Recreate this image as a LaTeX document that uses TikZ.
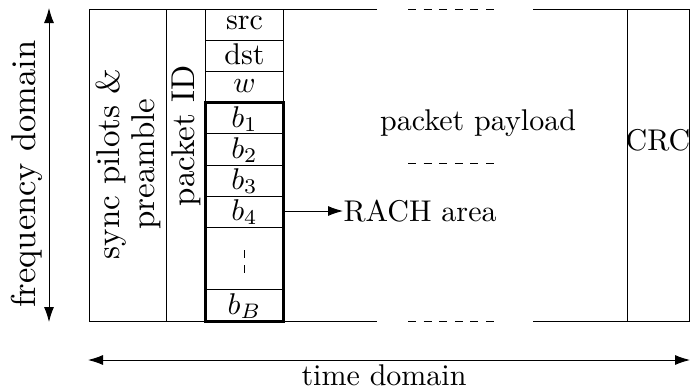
\documentclass[tikz,border=0pt]{standalone}
\usetikzlibrary{arrows.meta}
\begin{document}
\begin{tikzpicture}[x=1pt,y=-1pt,
  font=\fontsize{10}{12}\selectfont,
  frame/.style={line width=0.9pt},
  dashline/.style={line width=0.9pt, dash pattern=on 8pt off 7.6pt},
  thickbox/.style={line width=3pt},
  lbl/.style={inner sep=0pt, anchor=center, scale=3, transform shape},
  biglbl/.style={inner sep=0pt, anchor=center, scale=3.3, transform shape},
  tip/.style={-{Latex[length=15pt,width=10pt]}},
  twotip/.style={{Latex[length=15pt,width=10pt]}-{Latex[length=15pt,width=10pt]}}]
\useasboundingbox (0,0) rectangle (691,389);
% frame
\draw[frame] (377,9) -- (89,9) -- (89,321) -- (377,321);
\draw[frame] (533,9) -- (689,9) -- (689,321) -- (533,321);
\draw[dashline] (408,9) -- (496,9);
\draw[dashline] (408,321) -- (496,321);
\draw[dashline] (408,163) -- (496,163);
\draw[frame] (128,9) -- (166,9);
\draw[frame] (128,321) -- (166,321);
% separators
\draw[frame] (166,9) -- (166,321);
\draw[frame] (205,9) -- (205,102.6);
\draw[frame] (283.5,9) -- (283.5,102.6);
\foreach \yy in {40.2,71.4,133.8,165,196.2,227.4,289.8}
  \draw[frame] (205,\yy) -- (283.5,\yy);
\draw[thickbox] (205,102.6) rectangle (283.5,321);
% CRC
\draw[frame] (627,9) rectangle (689,321);
\node[lbl] (crc) at (658,140) {CRC};
% column labels
\node[lbl] (src) at (244.5,23) {src};
\node[lbl] (dst) at (244.5,54) {dst};
\node[lbl] (w) at (244.5,86) {$w$};
\node[lbl] (b1) at (244.5,119) {$b_1$};
\node[lbl] (b2) at (244.5,150) {$b_2$};
\node[lbl] (b3) at (244.5,181) {$b_3$};
\node[lbl] (b4) at (244.5,212) {$b_4$};
\node[lbl] (bB) at (244.5,306) {$b_B$};
\coordinate (dtop) at (244.5,250);
\coordinate (dbot) at (244.5,274);
\draw[frame, dash pattern=on 8pt off 7pt] (dtop) -- (dbot);
% rotated labels
\node[biglbl, rotate=90, align=center, font=\fontsize{10}{10.6}\selectfont] (sync) at (128,164) {sync pilots \&\\preamble};
\node[biglbl, rotate=90] (pid) at (186,136) {packet ID};
\node[inner sep=0pt, anchor=center, scale=3.45, transform shape, rotate=90] (freq) at (27,174) {frequency domain};
% payload
\node[lbl] (payload) at (478,123) {packet payload};
% RACH
\coordinate (b4e) at (285,211);
\node[lbl, anchor=west] (rach) at (343,211) {RACH area};
\draw[frame, tip] (b4e) -- (rach.west);
% axes
\coordinate (ft) at (49,8);
\coordinate (fb) at (49,322);
\draw[frame, twotip] (fb) -- (ft);
\coordinate (tl) at (88,360);
\coordinate (tr) at (690,360);
\draw[frame, twotip] (tl) -- (tr);
\node[lbl] (time) at (384,375) {time domain};
\end{tikzpicture}
\end{document}
